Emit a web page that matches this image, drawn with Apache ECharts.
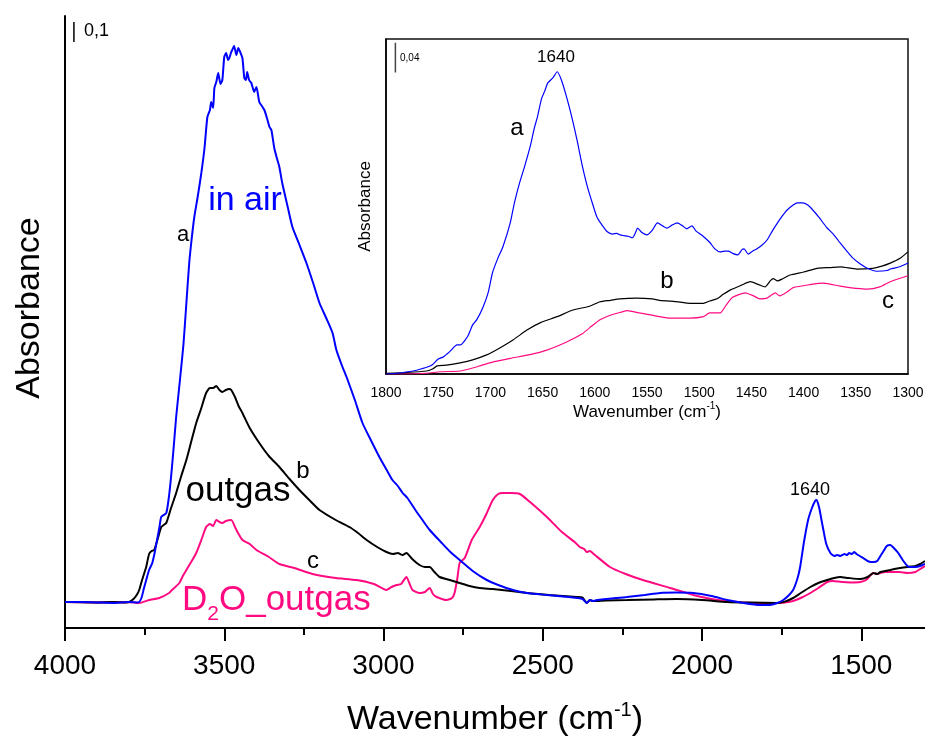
<!DOCTYPE html>
<html>
<head>
<meta charset="utf-8">
<script src="https://cdn.jsdelivr.net/npm/echarts@6/dist/echarts.min.js"></script>
<style>
  html, body { margin: 0; padding: 0; background: #fff; }
  #chart { width: 925px; height: 738px; }
</style>
</head>
<body>
<div id="chart"></div>
<script>
// IR spectra of the sample: in air (a), outgassed (b), D2O exchanged and outgassed (c)
const FONT = '"Liberation Sans", Arial, sans-serif';

const mainTicks = [4000, 3500, 3000, 2500, 2000, 1500];
const mainMinorTicks = [3750, 3250, 2750, 2250, 1750];
const insetTicks = [1800, 1750, 1700, 1650, 1600, 1550, 1500, 1450, 1400, 1350, 1300];

// [wavenumber (cm-1), absorbance]
const inAir = [
  [4000,0.13],[3950,0.13],[3900,0.128],[3850,0.125],[3800,0.13],[3770,0.128],[3760,0.15],[3752,0.2],
  [3745,0.24],[3736,0.29],[3726,0.325],[3718,0.38],[3711,0.44],[3704,0.5],[3698,0.555],[3690,0.565],
  [3682,0.575],[3675,0.64],[3667,0.755],[3659,0.9],[3651,1.055],[3643,1.18],[3635,1.305],[3628,1.42],
  [3620,1.6],[3610,1.825],[3602,1.95],[3594,2.055],[3583,2.16],[3572,2.275],[3562,2.4],[3553,2.555],
  [3545,2.59],[3541,2.63],[3535,2.6],[3531,2.7],[3525,2.73],[3519,2.775],[3512,2.72],[3506,2.74],
  [3500,2.855],[3494,2.875],[3488,2.84],[3484,2.85],[3478,2.88],[3475,2.89],[3469,2.91],[3462,2.865],
  [3456,2.9],[3450,2.88],[3443,2.85],[3437,2.75],[3432,2.74],[3428,2.78],[3422,2.74],[3415,2.725],
  [3406,2.68],[3399,2.705],[3390,2.63],[3382,2.61],[3374,2.59],[3366,2.55],[3358,2.505],[3352,2.49],
  [3343,2.4],[3335,2.35],[3327,2.305],[3318,2.225],[3300,2.1],[3286,2.005],[3265,1.92],[3242,1.825],
  [3220,1.72],[3201,1.625],[3180,1.55],[3160,1.475],[3148,1.39],[3130,1.31],[3116,1.255],[3090,1.14],
  [3066,1.025],[3040,0.94],[3013,0.855],[2990,0.79],[2972,0.74],[2955,0.71],[2940,0.675],[2925,0.65],
  [2900,0.59],[2880,0.545],[2855,0.49],[2820,0.43],[2790,0.38],[2761,0.34],[2720,0.285],[2676,0.24],
  [2640,0.215],[2594,0.19],[2550,0.175],[2487,0.165],[2420,0.155],[2393,0.15],[2375,0.145],[2362,0.125],
  [2352,0.14],[2343,0.135],[2330,0.14],[2236,0.155],[2180,0.165],[2132,0.175],[2080,0.177],[2028,0.175],
  [1970,0.16],[1921,0.14],[1870,0.125],[1818,0.115],[1790,0.115],[1764,0.125],[1745,0.14],[1730,0.16],
  [1714,0.19],[1700,0.25],[1692,0.305],[1680,0.43],[1667,0.54],[1655,0.6],[1645,0.635],[1640,0.64],
  [1632,0.6],[1625,0.54],[1619,0.49],[1610,0.42],[1597,0.375],[1585,0.36],[1575,0.365],[1566,0.36],
  [1560,0.365],[1552,0.37],[1545,0.365],[1538,0.375],[1530,0.37],[1522,0.38],[1515,0.37],[1505,0.36],
  [1494,0.35],[1480,0.335],[1470,0.33],[1462,0.33],[1450,0.335],[1440,0.36],[1430,0.385],[1420,0.41],
  [1409,0.415],[1398,0.4],[1384,0.375],[1370,0.34],[1355,0.31],[1346,0.305],[1330,0.305],[1315,0.31],
  [1300,0.32]
];

const outgas = [
  [4000,0.13],[3900,0.128],[3850,0.13],[3810,0.128],[3799,0.13],[3785,0.145],[3775,0.165],[3767,0.19],
  [3758,0.24],[3750,0.28],[3745,0.305],[3736,0.37],[3728,0.385],[3720,0.39],[3710,0.44],[3698,0.505],
  [3690,0.515],[3682,0.525],[3667,0.6],[3651,0.675],[3635,0.76],[3619,0.84],[3604,0.93],[3588,1.025],
  [3572,1.1],[3557,1.175],[3545,1.2],[3535,1.2],[3525,1.21],[3515,1.19],[3506,1.18],[3495,1.19],
  [3485,1.195],[3478,1.19],[3465,1.15],[3455,1.11],[3443,1.075],[3420,1.0],[3390,0.925],[3360,0.86],
  [3327,0.805],[3295,0.745],[3264,0.69],[3230,0.635],[3201,0.59],[3150,0.54],[3107,0.505],[3080,0.475],
  [3053,0.44],[3020,0.405],[2991,0.38],[2970,0.37],[2955,0.375],[2940,0.365],[2928,0.375],[2910,0.345],
  [2887,0.315],[2870,0.305],[2855,0.305],[2840,0.28],[2824,0.255],[2792,0.24],[2761,0.225],[2730,0.21],
  [2698,0.2],[2657,0.195],[2600,0.185],[2550,0.175],[2480,0.165],[2393,0.155],[2375,0.152],[2362,0.125],
  [2352,0.14],[2343,0.135],[2300,0.138],[2236,0.14],[2150,0.143],[2079,0.145],[2000,0.14],[1921,0.13],
  [1850,0.127],[1764,0.125],[1740,0.132],[1714,0.15],[1690,0.175],[1660,0.205],[1635,0.225],[1607,0.24],
  [1585,0.25],[1566,0.255],[1540,0.25],[1503,0.245],[1480,0.255],[1462,0.275],[1450,0.27],[1440,0.28],
  [1425,0.285],[1409,0.29],[1380,0.3],[1355,0.305],[1330,0.31],[1315,0.32],[1305,0.33],[1300,0.335]
];

const d2oOutgas = [
  [4000,0.13],[3900,0.128],[3800,0.13],[3767,0.125],[3736,0.14],[3704,0.15],[3673,0.175],[3664,0.19],
  [3641,0.225],[3630,0.26],[3619,0.29],[3604,0.33],[3588,0.375],[3572,0.44],[3557,0.505],[3545,0.52],
  [3535,0.51],[3525,0.54],[3515,0.53],[3506,0.525],[3495,0.535],[3478,0.54],[3465,0.5],[3455,0.47],
  [3443,0.44],[3420,0.42],[3399,0.39],[3360,0.355],[3327,0.32],[3280,0.3],[3223,0.27],[3150,0.25],
  [3085,0.24],[3030,0.22],[2991,0.19],[2975,0.205],[2959,0.215],[2945,0.22],[2928,0.255],[2918,0.22],
  [2909,0.19],[2887,0.175],[2870,0.18],[2855,0.2],[2845,0.17],[2833,0.155],[2802,0.14],[2785,0.15],
  [2777,0.175],[2768,0.25],[2761,0.325],[2745,0.35],[2723,0.44],[2698,0.505],[2677,0.57],[2657,0.64],
  [2640,0.67],[2626,0.675],[2600,0.675],[2572,0.67],[2540,0.63],[2487,0.555],[2440,0.48],[2400,0.43],
  [2384,0.405],[2370,0.395],[2362,0.38],[2352,0.385],[2340,0.37],[2289,0.305],[2240,0.27],[2186,0.24],
  [2100,0.2],[2028,0.165],[1970,0.145],[1921,0.135],[1870,0.128],[1818,0.125],[1764,0.125],[1740,0.128],
  [1714,0.135],[1690,0.15],[1660,0.175],[1635,0.2],[1607,0.23],[1590,0.235],[1570,0.232],[1557,0.23],
  [1530,0.228],[1503,0.23],[1485,0.24],[1470,0.265],[1462,0.275],[1450,0.27],[1440,0.275],[1425,0.28],
  [1409,0.28],[1380,0.28],[1355,0.275],[1330,0.28],[1315,0.295],[1300,0.31]
];

// Expanded 1800-1300 cm-1 region
const insetInAir = [
  [1800,0.0],[1790,0.001],[1774,0.004],[1766,0.007],[1761,0.009],[1756,0.012],[1750,0.02],[1745,0.023],
  [1739,0.03],[1732,0.039],[1729,0.039],[1722,0.05],[1717,0.066],[1713,0.073],[1707,0.09],[1702,0.11],
  [1698,0.136],[1693,0.155],[1688,0.171],[1681,0.203],[1677,0.23],[1672,0.257],[1667,0.28],[1662,0.305],
  [1658,0.33],[1655,0.345],[1651,0.37],[1648,0.38],[1645,0.391],[1640,0.398],[1636,0.406],[1632,0.395],
  [1627,0.372],[1622,0.345],[1617,0.314],[1612,0.28],[1607,0.251],[1602,0.228],[1598,0.211],[1593,0.2],
  [1588,0.191],[1583,0.188],[1579,0.189],[1576,0.187],[1573,0.186],[1568,0.185],[1564,0.183],[1561,0.19],
  [1559,0.196],[1555,0.19],[1550,0.187],[1545,0.193],[1540,0.203],[1535,0.199],[1531,0.196],[1526,0.2],
  [1521,0.203],[1516,0.199],[1512,0.195],[1507,0.199],[1503,0.192],[1498,0.187],[1490,0.177],[1485,0.168],
  [1480,0.164],[1476,0.165],[1472,0.165],[1468,0.162],[1463,0.16],[1459,0.167],[1457,0.168],[1453,0.161],
  [1449,0.165],[1445,0.168],[1440,0.173],[1435,0.18],[1430,0.192],[1425,0.203],[1420,0.213],[1416,0.22],
  [1410,0.227],[1406,0.23],[1401,0.23],[1396,0.227],[1391,0.22],[1385,0.21],[1378,0.197],[1371,0.187],
  [1365,0.176],[1358,0.164],[1353,0.156],[1346,0.148],[1339,0.142],[1330,0.138],[1320,0.139],[1317,0.141],
  [1308,0.144],[1300,0.149]
];

const insetOutgas = [
  [1800,0.001],[1780,0.002],[1761,0.004],[1755,0.007],[1751,0.011],[1742,0.012],[1729,0.015],[1717,0.019],
  [1703,0.026],[1691,0.035],[1678,0.046],[1665,0.059],[1652,0.069],[1636,0.077],[1621,0.086],[1605,0.091],
  [1595,0.097],[1585,0.099],[1576,0.101],[1560,0.102],[1545,0.101],[1538,0.099],[1520,0.097],[1509,0.095],
  [1496,0.095],[1490,0.098],[1483,0.101],[1477,0.107],[1470,0.113],[1460,0.119],[1451,0.124],[1443,0.12],
  [1437,0.117],[1432,0.125],[1429,0.128],[1425,0.125],[1420,0.128],[1413,0.133],[1400,0.137],[1387,0.142],
  [1375,0.143],[1365,0.144],[1349,0.141],[1334,0.142],[1325,0.145],[1317,0.149],[1308,0.155],[1300,0.164]
];

const insetD2O = [
  [1800,0.0],[1780,0.0],[1761,0.001],[1748,0.003],[1729,0.004],[1717,0.008],[1708,0.012],[1698,0.016],
  [1681,0.021],[1662,0.026],[1646,0.032],[1627,0.043],[1612,0.054],[1605,0.062],[1595,0.073],[1583,0.08],
  [1575,0.083],[1569,0.085],[1557,0.082],[1545,0.079],[1538,0.077],[1528,0.075],[1509,0.075],[1496,0.077],
  [1490,0.082],[1480,0.082],[1474,0.093],[1468,0.103],[1456,0.109],[1448,0.105],[1442,0.101],[1435,0.102],
  [1427,0.109],[1423,0.105],[1416,0.11],[1410,0.116],[1394,0.12],[1381,0.122],[1365,0.118],[1356,0.116],
  [1339,0.114],[1327,0.117],[1317,0.124],[1300,0.132]
];

// Absorbance scale bars (0.1 on the main plot, 0.04 on the inset)
const mainScaleBar = [[3972, 2.93], [3972, 3.03]];
const insetScaleBar = [[1791, 0.405], [1791, 0.445]];

const BLUE = '#0000ff';
const PINK = '#ff0a80';
const BLACK = '#000000';

function spectrum(data, color, width, xi, yi) {
  return {
    type: 'line', data: data, xAxisIndex: xi, yAxisIndex: yi,
    showSymbol: false, symbol: 'none', smooth: 0.2, animation: false,
    lineStyle: { color: color, width: width }, z: 3
  };
}

function txt(x, y, text, size, color, align, extra) {
  return Object.assign({
    type: 'text', x: x, y: y, z: 10,
    style: {
      text: text, font: size + 'px ' + FONT, fill: color,
      align: align || 'center', verticalAlign: 'middle',
      textAlign: align || 'center', textVerticalAlign: 'middle'
    }
  }, extra || {});
}

const titleRich = (big, small) => ({
  t: { fontSize: big, fontFamily: FONT, color: '#000', lineHeight: big + 6 },
  s: { fontSize: small, fontFamily: FONT, color: '#000', lineHeight: small, verticalAlign: 'top' }
});

const plain = (v) => String(v);

const chart = echarts.init(document.getElementById('chart'), null, { renderer: 'canvas' });
chart.setOption({
  animation: false,
  backgroundColor: '#ffffff',
  grid: [
    { left: 65, top: 16, right: 0, bottom: 110, show: false, containLabel: false, outerBoundsMode: 'none' },
    { left: 386, top: 39, width: 522, height: 335, show: true, backgroundColor: '#ffffff',
      borderColor: '#111', borderWidth: 1.5, containLabel: false, outerBoundsMode: 'none' }
  ],
  xAxis: [
    {
      gridIndex: 0, type: 'value', min: 1300, max: 4000, inverse: true, position: 'bottom',
      axisLine: { show: true, lineStyle: { color: '#000', width: 2 } },
      axisTick: { show: true, length: 13, lineStyle: { color: '#000', width: 2 }, customValues: mainTicks },
      axisLabel: { customValues: mainTicks, formatter: plain, fontSize: 28, fontFamily: FONT, color: '#000', margin: 24 },
      splitLine: { show: false },
      name: '{t|Wavenumber (cm}{s|-1}{t|)}', nameLocation: 'middle', nameGap: 72,
      nameTextStyle: { rich: titleRich(34, 20) }
    },
    {
      gridIndex: 0, type: 'value', min: 1300, max: 4000, inverse: true, position: 'bottom',
      axisLine: { show: false },
      axisTick: { show: true, length: 7, lineStyle: { color: '#000', width: 2 }, customValues: mainMinorTicks },
      axisLabel: { show: false }, splitLine: { show: false }
    },
    {
      gridIndex: 1, type: 'value', min: 1300, max: 1800, inverse: true, position: 'bottom',
      axisLine: { show: true, lineStyle: { color: '#000', width: 1.5 } },
      axisTick: { show: false },
      axisLabel: { customValues: insetTicks, formatter: plain, fontSize: 14, fontFamily: FONT, color: '#000', margin: 12 },
      splitLine: { show: false },
      name: '{t|Wavenumber (cm}{s|-1}{t|)}', nameLocation: 'middle', nameGap: 27,
      nameTextStyle: { rich: titleRich(17, 10) }
    }
  ],
  yAxis: [
    {
      gridIndex: 0, type: 'value', min: 0, max: 3.06,
      axisLine: { show: true, lineStyle: { color: '#000', width: 2 } },
      axisTick: { show: false }, axisLabel: { show: false }, splitLine: { show: false }
    },
    {
      gridIndex: 1, type: 'value', min: 0, max: 0.45,
      axisLine: { show: true, lineStyle: { color: '#000', width: 1.5 } },
      axisTick: { show: false }, axisLabel: { show: false }, splitLine: { show: false },
      name: 'Absorbance', nameLocation: 'middle', nameGap: 12,
      nameTextStyle: { fontSize: 17, fontFamily: FONT, color: '#000' }
    }
  ],
  series: [
    spectrum(d2oOutgas, PINK, 2, 0, 0),
    spectrum(outgas, BLACK, 2, 0, 0),
    spectrum(inAir, BLUE, 2, 0, 0),
    { type: 'line', data: mainScaleBar, xAxisIndex: 0, yAxisIndex: 0, showSymbol: false, symbol: 'none',
      lineStyle: { color: '#000', width: 1.5 } },
    spectrum(insetD2O, PINK, 1.2, 2, 1),
    spectrum(insetOutgas, BLACK, 1.2, 2, 1),
    spectrum(insetInAir, BLUE, 1.2, 2, 1),
    { type: 'line', data: insetScaleBar, xAxisIndex: 2, yAxisIndex: 1, showSymbol: false, symbol: 'none',
      lineStyle: { color: '#444', width: 1.5 } }
  ],
  graphic: [
    txt(30, 308, 'Absorbance', 34, '#000', 'center', { rotation: Math.PI / 2 }),
    txt(84, 31, '0,1', 18, '#000', 'left'),
    txt(183, 235, 'a', 22, '#000'),
    txt(245, 201, 'in air', 34, BLUE),
    txt(303, 471, 'b', 24, '#000'),
    txt(238, 491, 'outgas', 35, '#000'),
    txt(313, 561, 'c', 24, '#000'),
    {
      type: 'text', x: 182, y: 600, z: 10,
      style: {
        text: '{n|D}{s|2}{n|O_outgas}', align: 'left', verticalAlign: 'middle',
        textAlign: 'left', textVerticalAlign: 'middle', fill: PINK,
        rich: {
          n: { fontSize: 35, fontFamily: FONT, fill: PINK, lineHeight: 50 },
          s: { fontSize: 21, fontFamily: FONT, fill: PINK, lineHeight: 21, verticalAlign: 'bottom' }
        }
      }
    },
    txt(810, 490, '1640', 18, '#000'),
    txt(556, 57, '1640', 17, '#000'),
    txt(517, 128, 'a', 24, '#000'),
    txt(667, 281, 'b', 24, '#000'),
    txt(888, 301, 'c', 24, '#000'),
    txt(400, 58, '0,04', 10, '#000', 'left')
  ]
});
</script>
</body>
</html>
